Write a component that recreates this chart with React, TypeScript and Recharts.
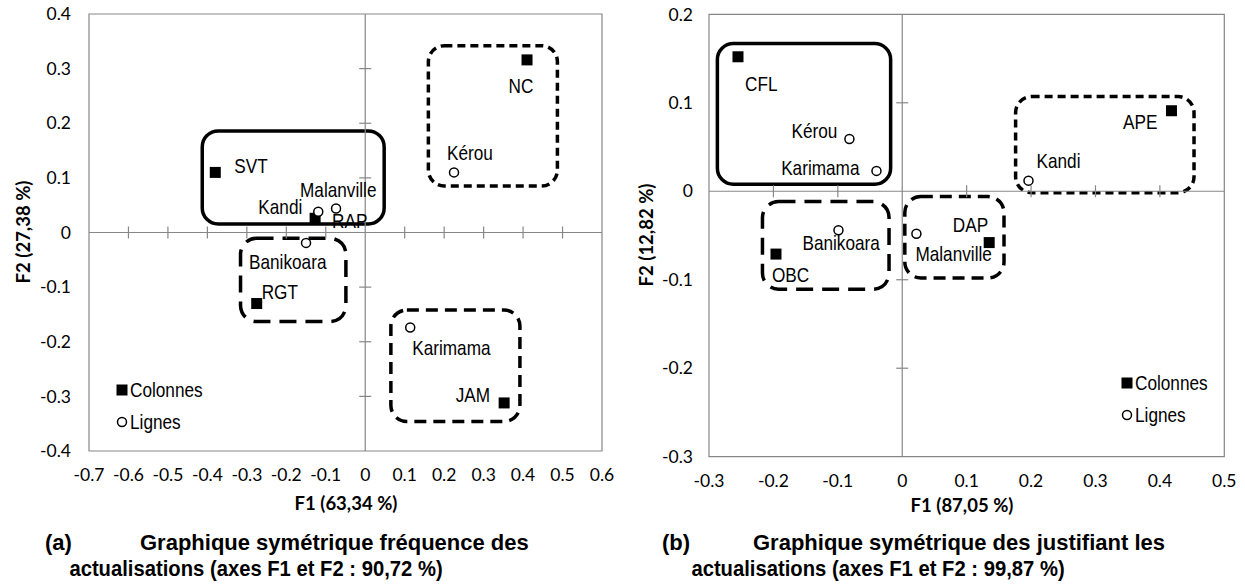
import React from 'react';
import { ScatterChart, Scatter, XAxis, YAxis, ReferenceArea, ReferenceLine, Legend } from 'recharts';

// (a) fréquence des actualisations
const colNamesA = ['SVT', 'NC', 'RAP', 'RGT', 'JAM'];
const colF1A = [-0.38, 0.41, -0.127, -0.275, 0.352];
const colF2A = [0.11, 0.316, 0.026, -0.13, -0.312];
const rowNamesA = ['Kérou', 'Kandi', 'Malanville', 'Banikoara', 'Karimama'];
const rowF1A = [0.225, -0.119, -0.074, -0.15, 0.114];
const rowF2A = [0.11, 0.038, 0.044, -0.019, -0.174];
const xTicksA = [-0.7, -0.6, -0.5, -0.4, -0.3, -0.2, -0.1, 0, 0.1, 0.2, 0.3, 0.4, 0.5, 0.6];
const yTicksA = [-0.4, -0.3, -0.2, -0.1, 0, 0.1, 0.2, 0.3, 0.4];

// (b) justifiant les actualisations
const colNamesB = ['CFL', 'APE', 'OBC', 'DAP'];
const colF1B = [-0.255, 0.418, -0.196, 0.135];
const colF2B = [0.152, 0.091, -0.071, -0.058];
const rowNamesB = ['Kérou', 'Karimama', 'Kandi', 'Banikoara', 'Malanville'];
const rowF1B = [-0.082, -0.04, 0.196, -0.099, 0.022];
const rowF2B = [0.059, 0.023, 0.012, -0.044, -0.048];
const xTicksB = [-0.3, -0.2, -0.1, 0, 0.1, 0.2, 0.3, 0.4, 0.5];
const yTicksB = [-0.3, -0.2, -0.1, 0, 0.1, 0.2];

// groupes entourés (coordonnées F1/F2)
const groupsA = [
  { x1: -0.413, x2: 0.048, y1: 0.0156, y2: 0.186, dash: undefined },
  { x1: 0.16, x2: 0.487, y1: 0.085, y2: 0.342, dash: '8 5' },
  { x1: -0.316, x2: -0.049, y1: -0.163, y2: -0.0106, dash: '17 9' },
  { x1: 0.065, x2: 0.392, y1: -0.346, y2: -0.142, dash: '12 7' },
];
const groupsB = [
  { x1: -0.287, x2: -0.018, y1: 0.0079, y2: 0.167, dash: undefined },
  { x1: 0.176, x2: 0.453, y1: -0.0016, y2: 0.107, dash: '8 5' },
  { x1: -0.217, x2: -0.0205, y1: -0.1107, y2: -0.0117, dash: '17 9' },
  { x1: 0.004, x2: 0.158, y1: -0.098, y2: -0.006, dash: '12 7' },
];

type Place = { anchor: 'start' | 'middle' | 'end'; dx: number; dy: number };

// where each data label sits relative to its marker (px)
const placesA: Record<string, Place> = {
  SVT: { anchor: 'start', dx: 19, dy: -6 },
  NC: { anchor: 'middle', dx: -6, dy: 26 },
  RAP: { anchor: 'start', dx: 17, dy: 3 },
  RGT: { anchor: 'start', dx: 5, dy: -11 },
  JAM: { anchor: 'end', dx: -14, dy: -8 },
  'Kérou': { anchor: 'start', dx: -7, dy: -19 },
  Kandi: { anchor: 'end', dx: -16, dy: -5 },
  Malanville: { anchor: 'start', dx: -36, dy: -18 },
  Banikoara: { anchor: 'start', dx: -57, dy: 19 },
  Karimama: { anchor: 'start', dx: 2, dy: 20 },
};
const placesB: Record<string, Place> = {
  CFL: { anchor: 'start', dx: 7, dy: 27 },
  APE: { anchor: 'end', dx: -14, dy: 11 },
  OBC: { anchor: 'start', dx: -4, dy: 21 },
  DAP: { anchor: 'end', dx: -1, dy: -18 },
  'Kérou': { anchor: 'end', dx: -12, dy: -8 },
  Karimama: { anchor: 'end', dx: -17, dy: -3 },
  Kandi: { anchor: 'start', dx: 8, dy: -20 },
  Banikoara: { anchor: 'start', dx: -36, dy: 13 },
  Malanville: { anchor: 'start', dx: -1, dy: 20 },
};

const LABEL_FONT = "'Liberation Sans', Arial, sans-serif";
const AXIS_FONT = "Lato, 'Open Sans', sans-serif";
const NARROW = 0.86;
const GRID = '#878787';

const toPoints = (names: string[], f1: number[], f2: number[]) =>
  names.map((name, i) => ({ name, x: f1[i], y: f2[i] }));

const markerShape = (kind: 'col' | 'row', places: Record<string, Place>) => (p: any) => {
  const { cx, cy, payload } = p;
  const pl = places[payload.name] || { anchor: 'start', dx: 8, dy: 0 };
  return (
    <g>
      {kind === 'col' ? (
        <rect x={cx - 5.5} y={cy - 5.5} width={11} height={11} fill="#000" />
      ) : (
        <circle cx={cx} cy={cy} r={4.5} fill="#fff" stroke="#000" strokeWidth={1.5} />
      )}
      <text
        transform={`translate(${cx + pl.dx},${cy + pl.dy}) scale(${NARROW},1)`}
        textAnchor={pl.anchor}
        dominantBaseline="central"
        fontFamily={LABEL_FONT}
        fontSize={20}
        fill="#000"
      >
        {payload.name}
      </text>
    </g>
  );
};

const legendText = { marginLeft: 2, display: 'inline-block', transform: `scaleX(${NARROW})`, transformOrigin: 'left center' } as const;

const LegendBox = () => (
  <div style={{ fontFamily: LABEL_FONT, fontSize: 20, lineHeight: '32px', color: '#000', whiteSpace: 'nowrap' }}>
    <div style={{ display: 'flex', alignItems: 'center' }}>
      <svg width={12} height={12}><rect x={0.5} y={0.5} width={11} height={11} fill="#000" /></svg>
      <span style={legendText}>Colonnes</span>
    </div>
    <div style={{ display: 'flex', alignItems: 'center' }}>
      <svg width={12} height={12}><circle cx={6} cy={6} r={4.5} fill="#fff" stroke="#000" strokeWidth={1.5} /></svg>
      <span style={legendText}>Lignes</span>
    </div>
  </div>
);

interface PanelProps {
  cols: { name: string; x: number; y: number }[];
  rows: { name: string; x: number; y: number }[];
  xTicks: number[];
  yTicks: number[];
  groups: { x1: number; x2: number; y1: number; y2: number; dash?: string }[];
  places: Record<string, Place>;
  margin: { top: number; right: number; bottom: number; left: number };
  yTickMargin: number;
  legendAt: { left: number; top: number };
}

const W = 620;
const H = 520;

const Panel: React.FC<PanelProps> = ({ cols, rows, xTicks, yTicks, groups, places, margin, yTickMargin, legendAt }) => {
  const xMin = xTicks[0];
  const xMax = xTicks[xTicks.length - 1];
  const yMin = yTicks[0];
  const yMax = yTicks[yTicks.length - 1];
  const plotW = W - margin.left - margin.right - 60;
  const plotH = H - margin.top - margin.bottom - 40;
  const hx = ((xMax - xMin) * 6) / plotW;
  const hy = ((yMax - yMin) * 6) / plotH;
  const tickStyle = { fill: '#000', fontSize: 17.5, fontFamily: AXIS_FONT };

  return (
    <ScatterChart width={W} height={H} margin={margin}>
      <XAxis
        type="number"
        dataKey="x"
        domain={[xMin, xMax]}
        ticks={xTicks}
        interval={0}
        axisLine={false}
        tickLine={false}
        tickSize={0}
        tickMargin={18}
        height={40}
        tick={tickStyle}
        tickFormatter={(v: number) => String(v)}
      />
      <YAxis
        type="number"
        dataKey="y"
        domain={[yMin, yMax]}
        ticks={yTicks}
        interval={0}
        axisLine={false}
        tickLine={false}
        tickSize={0}
        tickMargin={yTickMargin}
        width={60}
        tick={tickStyle}
        tickFormatter={(v: number) => String(v)}
      />
      <ReferenceArea x1={xMin} x2={xMax} y1={yMin} y2={yMax} fill="none" stroke={GRID} strokeWidth={1.2} />
      <ReferenceLine x={0} stroke={GRID} strokeWidth={1.2} />
      <ReferenceLine y={0} stroke={GRID} strokeWidth={1.2} />
      {xTicks.filter((t) => t !== 0 && t !== xMin && t !== xMax).map((t) => (
        <ReferenceLine key={'xt' + t} segment={[{ x: t, y: -hy }, { x: t, y: hy }]} stroke={GRID} strokeWidth={1.2} />
      ))}
      {yTicks.filter((t) => t !== 0 && t !== yMin && t !== yMax).map((t) => (
        <ReferenceLine key={'yt' + t} segment={[{ x: -hx, y: t }, { x: hx, y: t }]} stroke={GRID} strokeWidth={1.2} />
      ))}
      {groups.map((g, i) => (
        <ReferenceArea
          key={'g' + i}
          x1={g.x1}
          x2={g.x2}
          y1={g.y1}
          y2={g.y2}
          shape={(p: any) => (
            <rect
              x={p.x}
              y={p.y}
              width={p.width}
              height={p.height}
              rx={16}
              ry={16}
              fill="none"
              stroke="#000"
              strokeWidth={3.5}
              strokeDasharray={g.dash}
            />
          )}
        />
      ))}
      <Scatter name="Colonnes" data={cols} shape={markerShape('col', places)} isAnimationActive={false} />
      <Scatter name="Lignes" data={rows} shape={markerShape('row', places)} isAnimationActive={false} />
      <Legend
        layout="vertical"
        align="center"
        verticalAlign="middle"
        content={() => <LegendBox />}
        wrapperStyle={{ left: legendAt.left, top: legendAt.top, width: 'auto', bottom: 'auto' }}
      />
    </ScatterChart>
  );
};

const App: React.FC = () => {
  const capStyle = { fontFamily: LABEL_FONT, fontWeight: 700, fontSize: 22 } as const;
  const titleStyle = { fontFamily: AXIS_FONT, fontWeight: 700, fontSize: 18.5 } as const;
  return (
    <div style={{ position: 'absolute', left: 0, top: 0, width: 1245, height: 587, background: '#fff' }}>
      <div style={{ position: 'absolute', left: 0, top: 0 }}>
        <Panel
          cols={toPoints(colNamesA, colF1A, colF2A)}
          rows={toPoints(rowNamesA, rowF1A, rowF2A)}
          xTicks={xTicksA}
          yTicks={yTicksA}
          groups={groupsA}
          places={placesA}
          margin={{ top: 14, right: 18, bottom: 29, left: 29 }}
          yTickMargin={18}
          legendAt={{ left: 116, top: 374 }}
        />
      </div>
      <div style={{ position: 'absolute', left: 625, top: 0 }}>
        <Panel
          cols={toPoints(colNamesB, colF1B, colF2B)}
          rows={toPoints(rowNamesB, rowF1B, rowF2B)}
          xTicks={xTicksB}
          yTicks={yTicksB}
          groups={groupsB}
          places={placesB}
          margin={{ top: 14.3, right: 20.7, bottom: 23.3, left: 24 }}
          yTickMargin={16}
          legendAt={{ left: 496, top: 367 }}
        />
      </div>
      <svg width={1245} height={587} style={{ position: 'absolute', left: 0, top: 0, pointerEvents: 'none' }}>
        <text x={346} y={503} textAnchor="middle" dominantBaseline="central" {...titleStyle}>F1 (63,34 %)</text>
        <text x={23} y={232} textAnchor="middle" dominantBaseline="central" transform="rotate(-90 23 232)" {...titleStyle}>F2 (27,38 %)</text>
        <text x={962} y={505} textAnchor="middle" dominantBaseline="central" {...titleStyle}>F1 (87,05 %)</text>
        <text x={646} y={235} textAnchor="middle" dominantBaseline="central" transform="rotate(-90 646 235)" {...titleStyle}>F2 (12,82 %)</text>

        <text x={45} y={550} {...capStyle}>(a)</text>
        <text x={140} y={550} {...capStyle}>Graphique symétrique fréquence des</text>
        <text transform={`translate(256,576) scale(0.92,1)`} textAnchor="middle" {...capStyle}>actualisations (axes F1 et F2 : 90,72 %)</text>
        <text x={662} y={550} {...capStyle}>(b)</text>
        <text x={753} y={550} {...capStyle}>Graphique symétrique des justifiant les</text>
        <text transform={`translate(878,576) scale(0.92,1)`} textAnchor="middle" {...capStyle}>actualisations (axes F1 et F2 : 99,87 %)</text>
      </svg>
    </div>
  );
};

export default App;
